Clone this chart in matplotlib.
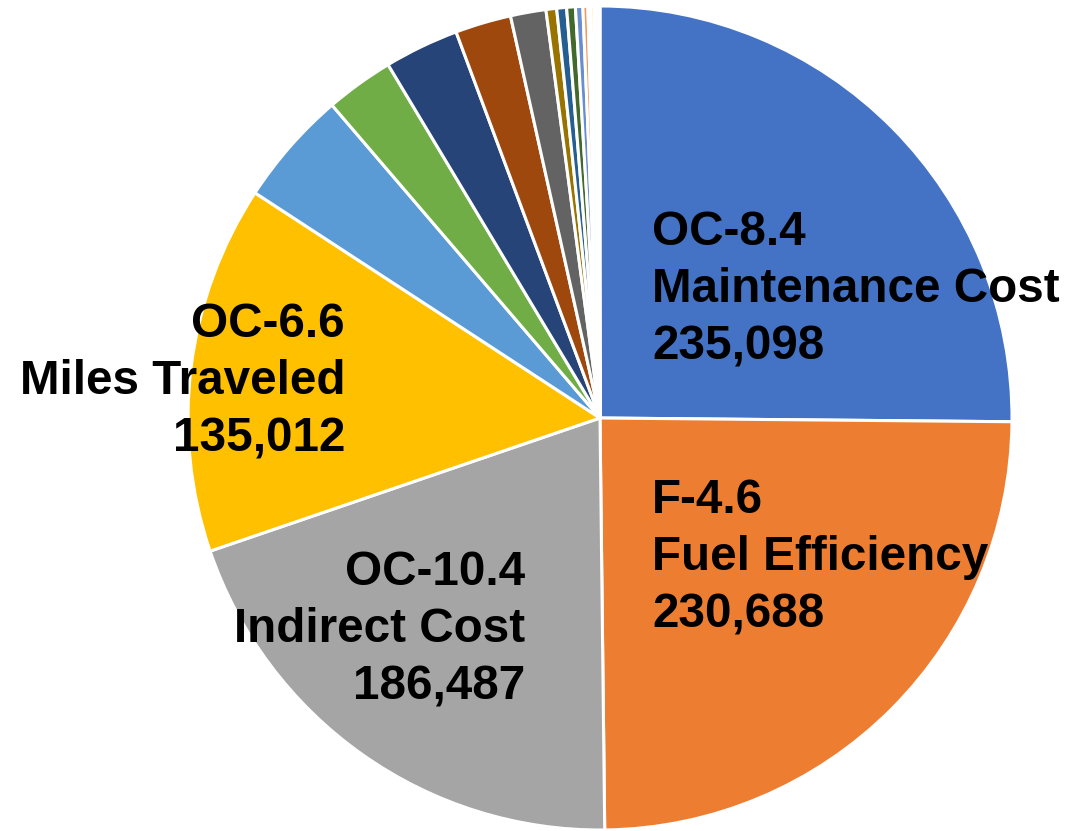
import matplotlib.pyplot as plt

# slice values, clockwise from 12 o'clock
values = [235098, 230688, 186487, 135012, 42300, 25000, 27300, 20500, 13000,
          3900, 3600, 3200, 2700, 1800, 1100, 1200, 900, 700, 500]
colors = ["#4472C4", "#ED7D31", "#A5A5A5", "#FFC000", "#5B9BD5", "#70AD47",
          "#264478", "#9E480E", "#636363", "#997300", "#255E91", "#43682B",
          "#698ED0", "#F1975A", "#B7B7B7", "#FFCD33", "#7CAFDD", "#8CC168",
          "#335AA1"]
label_codes = ["OC-8.4", "F-4.6", "OC-10.4", "OC-6.6"]
label_names = ["Maintenance Cost", "Fuel Efficiency", "Indirect Cost", "Miles Traveled"]

W, H = 1092, 831
fig = plt.figure(figsize=(W / 100, H / 100), dpi=100)
cx, cy, r = 600, 418, 412
ax = fig.add_axes([(cx - r) / W, (H - cy - r) / H, 2 * r / W, 2 * r / H])

ax.pie(values, colors=colors, startangle=90, counterclock=False, radius=1,
       wedgeprops=dict(edgecolor="white", linewidth=2.2))
ax.set_xlim(-1, 1)
ax.set_ylim(-1, 1)
ax.axis("off")


def px(x, y):
    return (x - cx) / r, (cy - y) / r


# label anchors (pixel positions)
spots = [(652, 290, "left"), (652, 558, "left"), (525, 630, "right"), (345, 382, "right")]
for (x, y, ha), code, name, v in zip(spots, label_codes, label_names, values):
    tx, ty = px(x, y)
    ax.text(tx, ty, f"{code}\n{name}\n{v:,}", ha=ha, va="center", multialignment=ha,
            fontsize=34.3, fontweight="bold", family="Liberation Sans", color="black",
            linespacing=1.35)

fig.savefig("out.png", dpi=100)
